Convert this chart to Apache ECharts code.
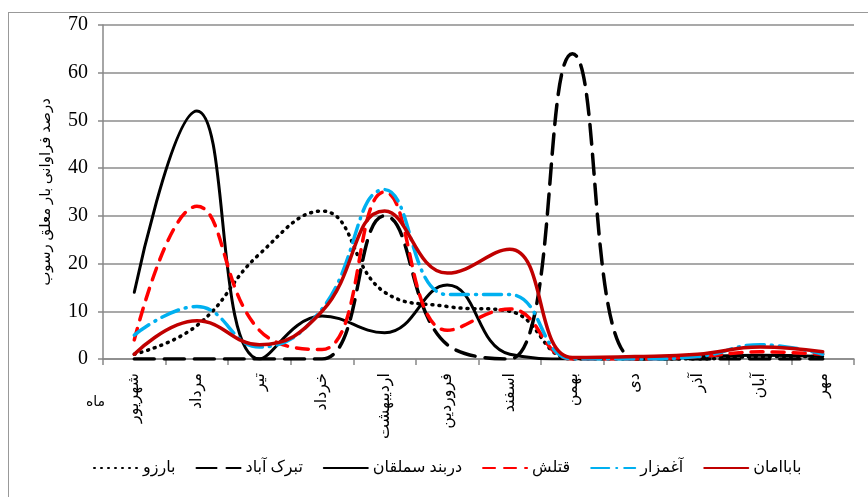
<!DOCTYPE html>
<html>
<head>
<meta charset="utf-8">
<script src="https://cdn.jsdelivr.net/npm/echarts@6/dist/echarts.min.js"></script>
<style>
  html, body { margin: 0; padding: 0; background: #fff; }
  .frame {
    position: absolute;
    left: 8px;
    top: 12px;
    width: 900px;
    height: 600px;
    border: 1.5px solid #999;
  }
  #chart {
    position: absolute;
    left: 0;
    top: 0;
    width: 868px;
    height: 497px;
  }
</style>
</head>
<body>
<div class="frame"></div>
<div id="chart"></div>
<script>
const months = ['شهریور', 'مرداد', 'تیر', 'خرداد', 'اردیبهشت', 'فروردین', 'اسفند', 'بهمن', 'دی', 'آذر', 'آبان', 'مهر']
const yTicks = [0, 10, 20, 30, 40, 50, 60, 70]

const barzo = [1, 7, 22, 31, 14, 11, 10, 0, 0, 0, 0.5, 0.5]
const tabarokAbad = [0, 0, 0, 0, 30, 3, 0, 64, 0, 0, 0, 0]
const darbandSamalghan = [14, 52, 0, 9, 5.5, 15.5, 1, 0, 0, 0.5, 0.8, 0.5]
const ghatlesh = [4, 32, 6, 2, 35, 6, 10.5, 0, 0, 0.5, 1.5, 1]
const aghmazar = [5, 11, 2.5, 10.5, 35.5, 13.5, 13.5, 0, 0, 0.5, 3, 1]
const babaaman = [1, 8, 3, 10, 31, 18, 23, 0.3, 0.5, 1, 2.5, 1.5]

const serif = "'Liberation Serif', 'DejaVu Serif', 'DejaVu Sans', serif"

const chart = echarts.init(document.getElementById('chart'))

function lineSeries(name, data, color, type, width) {
  return {
    name,
    type: 'line',
    data,
    smooth: 0.45,
    symbol: 'none',
    lineStyle: { color, width, type, cap: 'round' },
    itemStyle: { color },
  }
}

chart.setOption({
  animation: false,
  textStyle: { fontFamily: serif },
  grid: { left: 103, right: 14, top: 25, bottom: 138 },
  legend: {
    left: 88,
    top: 455,
    itemWidth: 44,
    itemHeight: 10,
    itemGap: 20,
    itemStyle: { opacity: 0 },
    textStyle: { fontFamily: serif, fontSize: 16, color: '#000' },
  },
  graphic: [
    {
      type: 'text',
      left: 86,
      top: 395,
      style: { text: 'ماه', fontFamily: serif, fontSize: 14, fill: '#000' },
    },
  ],
  xAxis: {
    type: 'category',
    data: months,
    boundaryGap: true,
    axisLine: { lineStyle: { color: '#888', width: 1.5 } },
    axisTick: { show: true, alignWithLabel: false, length: 6, lineStyle: { color: '#888', width: 1.5 } },
    axisLabel: { rotate: 90, interval: 0, fontSize: 16, color: '#000', fontFamily: serif, margin: 14 },
  },
  yAxis: {
    type: 'value',
    min: yTicks[0],
    max: yTicks[yTicks.length - 1],
    interval: 10,
    name: 'درصد فراوانی بار معلق رسوب',
    nameLocation: 'middle',
    nameRotate: 90,
    nameGap: 49,
    nameTextStyle: { fontSize: 15, color: '#000', fontFamily: serif },
    axisLine: { show: true, lineStyle: { color: '#888', width: 1.5 } },
    axisTick: { show: true, length: 5, lineStyle: { color: '#888', width: 1.5 } },
    axisLabel: { fontSize: 20, color: '#000', fontFamily: serif, margin: 15 },
    splitLine: { lineStyle: { color: '#8c8c8c', width: 1.5 } },
  },
  series: [
    lineSeries('بارزو', barzo, '#000000', [1, 6], 3.5),
    lineSeries('تبرک آباد', tabarokAbad, '#000000', [20, 10], 3.5),
    lineSeries('دربند سملقان', darbandSamalghan, '#000000', 'solid', 3),
    lineSeries('قتلش', ghatlesh, '#ff0000', [12, 9], 3.5),
    lineSeries('آغمزار', aghmazar, '#00b0f0', [18, 7, 1, 7], 3.5),
    lineSeries('باباامان', babaaman, '#c00000', 'solid', 3.5),
  ],
})
</script>
</body>
</html>
